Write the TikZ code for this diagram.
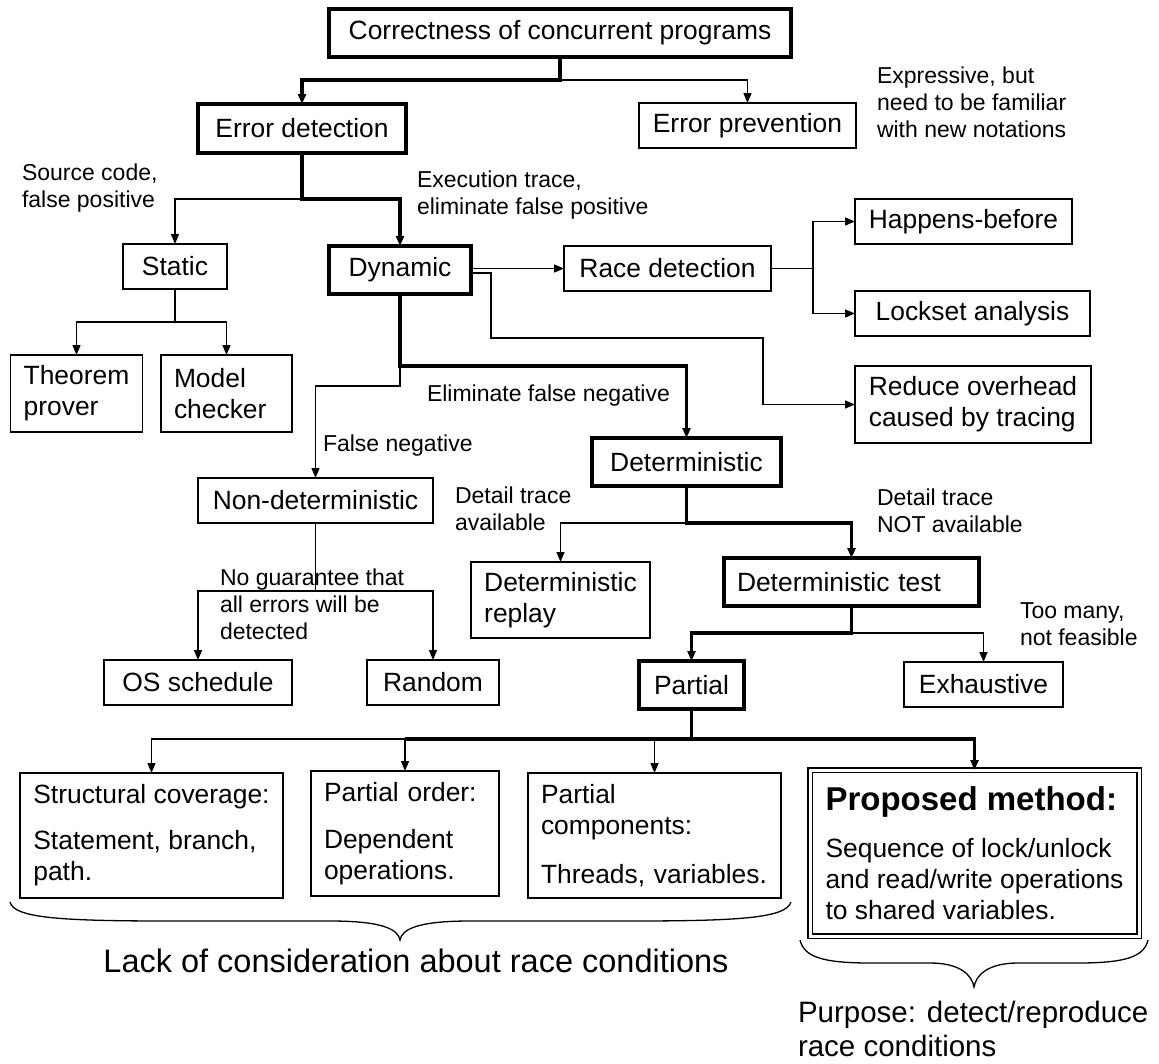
\documentclass[tikz,border=0pt]{standalone}
\usepackage{fontspec}
\setmainfont{Liberation Sans}
\usetikzlibrary{arrows.meta}
% left-aligned stack of lines whose baseline is the first line
\newcommand{\mlines}[1]{\begin{tabular}[t]{@{}l@{}}#1\end{tabular}}

\begin{document}
\begin{tikzpicture}[x=1pt,y=-1pt,
  every node/.style={inner sep=0pt, outer sep=0pt},
  box/.style={draw, line width=1.4pt, font=\fontsize{26.4}{31}\selectfont, align=left, inner xsep=13pt},
  heavy/.style={box, line width=3.5pt},
  wire/.style={line width=1.4pt},
  wireb/.style={line width=3.6pt},
  arr/.style={-{Triangle[length=10pt,width=8pt]}},
  note/.style={font=\fontsize{23}{27}\selectfont, anchor=base west},
]
\path[use as bounding box, fill=white] (0,0) rectangle (1159,1063);

% ---------- boxes ----------
\node[heavy, minimum width=462pt, minimum height=48pt] (top) at (560,33) {Correctness of concurrent programs};
\node[heavy, minimum width=208pt, minimum height=49pt] (errdet) at (302,128.5) {Error detection};
\node[box, minimum width=217pt, minimum height=45pt] (errprev) at (747.5,125.5) {Error prevention};
\node[box, minimum width=104pt, minimum height=45pt] (static) at (175,266.5) {Static};
\node[heavy, minimum width=142pt, minimum height=48pt] (dynamic) at (400,270) {Dynamic};
\node[box, minimum width=207pt, minimum height=45pt] (race) at (667.5,268.5) {Race detection};
\node[box, minimum width=217pt, minimum height=45pt] (hb) at (963.5,221.5) {Happens-before};
\node[box, minimum width=235pt, minimum height=45pt] (lockset) at (972.5,313.5) {Lockset analysis};
\node[box, minimum width=236pt, minimum height=77pt] (reduce) at (973,404.5) {Reduce overhead\\caused by tracing};
\node[box, minimum width=131pt, minimum height=77pt] (theorem) at (76.5,393.5) {Theorem\\prover};
\node[box, text width=105pt, minimum height=77pt] (model) at (226.5,393.5) {Model\\checker};
\node[box, minimum width=235pt, minimum height=45pt] (nondet) at (315.5,500.5) {Non-deterministic};
\node[heavy, minimum width=189pt, minimum height=48pt] (det) at (686.5,462) {Deterministic};
\node[box, minimum width=188pt, minimum height=45pt] (osched) at (198,682.5) {OS schedule};
\node[box, minimum width=132pt, minimum height=45pt] (random) at (433,682.5) {Random};
\node[box, minimum width=179pt, minimum height=76pt] (replay) at (560.5,600) {Deterministic\\replay};
\node[heavy, text width=229pt, minimum height=48pt] (dettest) at (851.5,582) {Deterministic test};
\node[heavy, minimum width=105pt, minimum height=48pt] (partial) at (691.5,685) {Partial};
\node[box, minimum width=159pt, minimum height=45pt] (exhaust) at (983.5,684.5) {Exhaustive};
\node[box, minimum width=263pt, minimum height=125pt] (struct) at (151.5,835.5) {Structural coverage:\\[15pt]Statement, branch,\\path.};
\node[box, text width=162pt, minimum height=125pt] (porder) at (405,833.5) {Partial order:\\[16pt]Dependent\\operations.};
\node[box, text width=227pt, minimum height=125pt] (pcomp) at (654.5,835.5) {Partial\\components:\\[18pt]Threads, variables.};
\node[box, double, double distance=3pt, line width=1.3pt, minimum width=329pt, minimum height=166pt] (proposed) at (974.5,853)
  {{\fontsize{33}{31}\selectfont\bfseries Proposed method:}\\[16pt]Sequence of lock/unlock\\and read/write operations\\to shared variables.};

% ---------- branch points ----------
\coordinate (b0) at ([yshift=-23pt]top.south);
\coordinate (b1) at ([yshift=-46pt]errdet.south);
\coordinate (b2) at ([yshift=-33pt]static.south);
\coordinate (b3) at ([yshift=-72pt]dynamic.south);
\coordinate (b4) at ([yshift=-92pt]dynamic.south);
\coordinate (b5) at ([xshift=42pt]race.east);
\coordinate (b6) at ([yshift=-68pt]nondet.south);
\coordinate (b7) at ([yshift=-37pt]det.south);
\coordinate (b8) at ([yshift=-27pt]dettest.south);
\coordinate (b9) at ([yshift=-30pt]partial.south);

% ---------- thin connectors ----------
\draw[wire,arr] (b0) -| (errprev.north);
\draw[wire,arr] (b1) -| (static.north);
\draw[wire] (static.south) -- (b2);
\draw[wire,arr] (b2) -| (theorem.north);
\draw[wire,arr] (b2) -| (model.north);
\draw[wire,arr] (b3) -- (b4) -| (nondet.north);
\draw[wire,arr] (dynamic.east |- race.west) -- (race.west);
\draw[wire,arr] ([yshift=-3pt]dynamic.east) -- ++(20,0) -- ++(0,65) -- ++(272,0) |- (reduce.west);
\draw[wire] (race.east) -- (b5);
\draw[wire,arr] (b5) |- (hb.west);
\draw[wire,arr] (b5) |- (lockset.west);
\draw[wire] (nondet.south) -- (b6);
\draw[wire,arr] (b6) -| (osched.north);
\draw[wire,arr] (b6) -| (random.north);
\draw[wire,arr] (b7) -| (replay.north);
\draw[wire,arr] (b8) -| (exhaust.north);
\draw[wire,arr] (b9 -| porder.north) -| (struct.north);
\draw[wire,arr] (b9 -| porder.north) -- (porder.north);
\draw[wire,arr] (b9 -| pcomp.north) -- (pcomp.north);

% ---------- main (heavy) path ----------
\draw[wireb,arr] (top.south) -- (b0) -| (errdet.north);
\draw[wireb,arr] (errdet.south) -- (b1) -| (dynamic.north);
\draw[wireb,arr] (dynamic.south) -- (b3) -| (det.north);
\draw[wireb,arr] (det.south) -- (b7) -| (dettest.north);
\draw[wireb,arr] (dettest.south) -- (b8) -| (partial.north);
\draw[wireb] (b9) -- (b9 -| porder.north);
\draw[wireb,arr] (partial.south) -- (b9) -| (proposed.north);

% ---------- annotations ----------
\node[note] (lsrc) at (22,180) {\mlines{Source code,\\false positive}};
\node[note] (lexec) at (417,187) {\mlines{Execution trace,\\eliminate false positive}};
\node[note] (lexpr) at (877,83) {\mlines{Expressive, but\\need to be familiar\\with new notations}};
\node[note] (lelim) at (427,401) {Eliminate false negative};
\node[note] (lfneg) at (323,451) {False negative};
\node[note] (ldta) at (455,503) {\mlines{Detail trace\\available}};
\node[note] (ldtna) at (877,505) {\mlines{Detail trace\\NOT available}};
\node[note] (lnog) at (220,585) {\mlines{No guarantee that\\all errors will be\\detected}};
\node[note] (ltoo) at (1020,618) {\mlines{Too many,\\not feasible}};

% ---------- braces and summaries ----------
\draw[wire,line width=1.3pt] (10,902) .. controls (14,918) and (60,921) .. (170,921) -- (330,921)
  .. controls (385,921) and (398,930) .. (400,940)
  .. controls (402,930) and (415,921) .. (470,921) -- (630,921)
  .. controls (740,921) and (786,918) .. (791,902);
\draw[wire,line width=1.3pt] (800,940) .. controls (804,956) and (820,963) .. (870,963) -- (930,963)
  .. controls (960,963) and (972,975) .. (974,987)
  .. controls (976,975) and (988,963) .. (1018,963) -- (1078,963)
  .. controls (1128,963) and (1144,956) .. (1148,940);

\node[font=\fontsize{32.5}{36}\selectfont, anchor=base] (lack) at (416,972) {Lack of consideration about race conditions};
\node[font=\fontsize{29.5}{34}\selectfont, anchor=base west] (purpose) at (798,1022) {\mlines{Purpose: detect/reproduce\\race conditions}};
\end{tikzpicture}
\end{document}
